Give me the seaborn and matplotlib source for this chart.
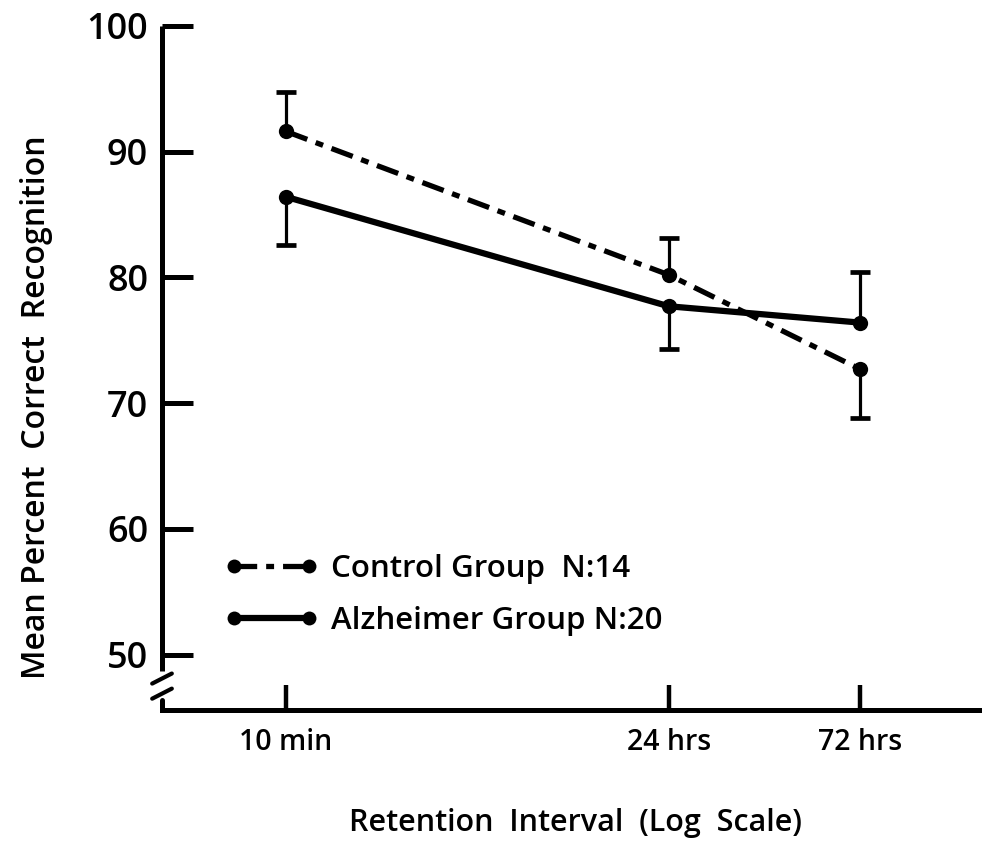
import numpy as np
import pandas as pd
import matplotlib
matplotlib.use("Agg")
import matplotlib.pyplot as plt
from matplotlib.lines import Line2D
import matplotlib.transforms as mtransforms
import seaborn as sns

# ---------------- data ----------------
intervals = ["10 min", "24 hrs", "72 hrs"]
interval_axis_pos = [1, 3, 4]          # position on the (log-like) retention axis
groups = ["Control Group  N:14", "Alzheimer Group N:20"]

control_mean = [91.6, 80.2, 72.7]
control_err_low = [0.0, 0.0, 3.9]
control_err_high = [3.1, 2.9, 0.0]

alz_mean = [86.4, 77.7, 76.4]
alz_err_low = [3.8, 3.4, 0.0]
alz_err_high = [0.0, 0.0, 4.0]

y_ticks = [50, 60, 70, 80, 90, 100]

df = pd.DataFrame({
    "pos": interval_axis_pos * 2,
    "mean": control_mean + alz_mean,
    "group": [groups[0]] * 3 + [groups[1]] * 3,
})

# ---------------- style ----------------
sns.set_theme(style="white")
plt.rcParams["font.family"] = ["Open Sans", "DejaVu Sans"]
plt.rcParams["font.weight"] = "semibold"
plt.rcParams["text.color"] = "black"
plt.rcParams["axes.labelcolor"] = "black"
plt.rcParams["axes.labelweight"] = "semibold"

fig = plt.figure(figsize=(9.82, 8.41), dpi=100)
ax = fig.add_axes([162 / 982, 1 - 710 / 841, 818 / 982, 688 / 841])

lw_ctrl = 3.8
lw_alz = 4.5
dash_ctrl = (4.3, 1.7, 1.5, 1.7)

sns.lineplot(
    data=df, x="pos", y="mean", hue="group", style="group",
    palette={groups[0]: "black", groups[1]: "black"},
    dashes={groups[0]: dash_ctrl, groups[1]: ""},
    markers={groups[0]: "o", groups[1]: "o"},
    markersize=11, markeredgewidth=0, legend=False, ax=ax,
)
for line, lw in zip(ax.get_lines(), [lw_ctrl, lw_alz]):
    line.set_linewidth(lw)
    line.set_solid_capstyle("round")


def one_sided_bars(x, mean, low, high):
    x = np.asarray(x, float)
    mean = np.asarray(mean, float)
    low = np.asarray(low, float)
    high = np.asarray(high, float)
    ax.vlines(x, mean - low, mean + high, colors="black", linewidth=2.3)
    ends = np.where(high > 0, mean + high, mean - low)
    ax.plot(x, ends, linestyle="none", marker="_", markersize=15,
            markeredgewidth=3.4, color="black")


one_sided_bars(interval_axis_pos, control_mean, control_err_low, control_err_high)
one_sided_bars(interval_axis_pos, alz_mean, alz_err_low, alz_err_high)

# ---------------- axes ----------------
ax.set_xlim(0.352, 4.627)
ax.set_ylim(45.6, 100.3)
ax.set_xticks(interval_axis_pos)
ax.set_xticklabels(intervals)
ax.set_yticks(y_ticks)
ax.set_yticklabels([str(t) for t in y_ticks])

for s in ["top", "right"]:
    ax.spines[s].set_visible(False)
for s in ["left", "bottom"]:
    ax.spines[s].set_color("black")
    ax.spines[s].set_linewidth(3.6)
ax.spines["left"].set_bounds(48.7, 100)
ax.spines["left"].set_capstyle("butt")

ax.tick_params(axis="y", direction="in", length=22, width=3.6, colors="black",
               labelsize=26, pad=10, left=True)
ax.tick_params(axis="x", direction="in", length=18, width=3.2, colors="black",
               labelsize=20.5, pad=13, bottom=True)

# axis break marks on y axis
trans = mtransforms.blended_transform_factory(ax.transAxes, ax.transData)
ax.plot([0.0, 0.0], [45.6, 46.4], color="black", lw=3.6, transform=trans, clip_on=False)
ax.plot([-0.012, 0.012], [46.5, 47.3], color="black", lw=3.0, transform=trans, clip_on=False)
ax.plot([-0.012, 0.012], [47.7, 48.5], color="black", lw=3.0, transform=trans, clip_on=False)

ax.set_xlabel("Retention  Interval  (Log  Scale)", fontsize=22, color="black")
ax.xaxis.set_label_coords(0.505, -0.143)
ax.set_ylabel("Mean Percent  Correct  Recognition", fontsize=23, color="black")
ax.yaxis.set_label_coords(-0.133, 0.44)

# legend
handles = [
    Line2D([0], [0], color="black", lw=lw_ctrl, dashes=dash_ctrl, marker="o",
           markersize=10, markeredgewidth=0),
    Line2D([0], [0], color="black", lw=lw_alz, marker="o",
           markersize=10, markeredgewidth=0),
]
leg = ax.legend(handles, groups, loc="center left", bbox_to_anchor=(0.077, 0.167),
                frameon=False, numpoints=2, handlelength=3.0, handletextpad=0.4,
                labelspacing=0.7, borderpad=0, borderaxespad=0, fontsize=22.5)
for t in leg.get_texts():
    t.set_color("black")

fig.savefig("out.png", dpi=100, facecolor="white")
